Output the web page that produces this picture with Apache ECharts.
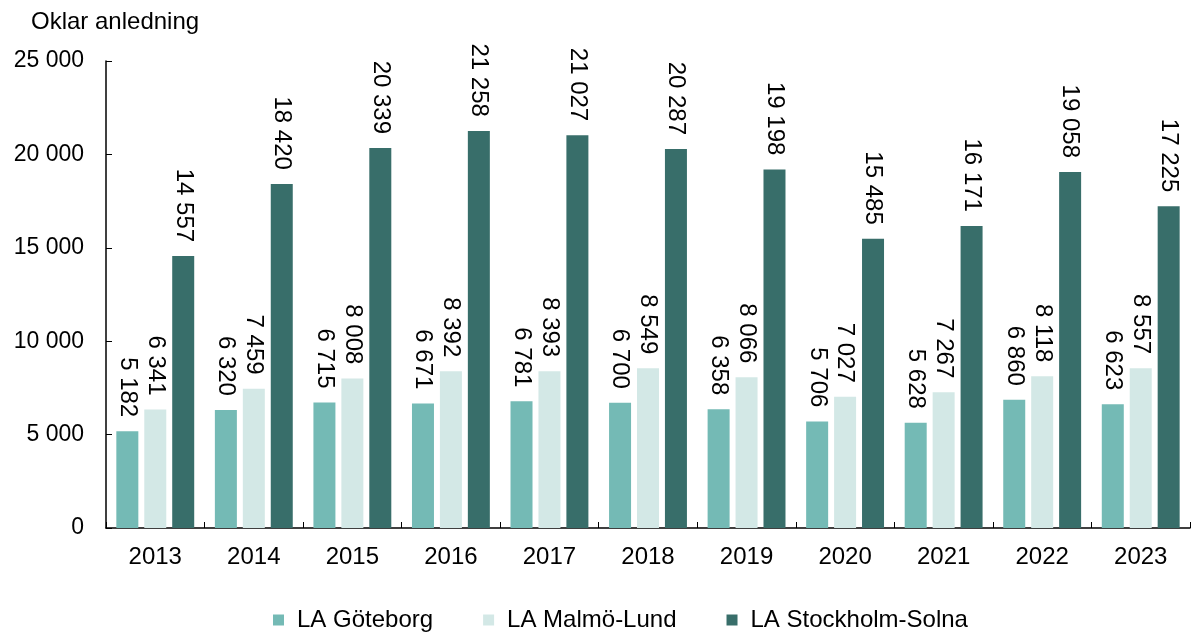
<!DOCTYPE html>
<html>
<head>
<meta charset="utf-8">
<script src="https://cdn.jsdelivr.net/npm/echarts@6/dist/echarts.min.js"></script>
<style>
  html, body { margin: 0; padding: 0; background: #fff; }
  #chart { width: 1195px; height: 637px; }
</style>
</head>
<body>
<div id="chart"></div>
<script>
  const years = ["2013", "2014", "2015", "2016", "2017", "2018", "2019", "2020", "2021", "2022", "2023"]
  const goteborg = [5182, 6320, 6715, 6671, 6781, 6700, 6358, 5706, 5628, 6860, 6623]
  const malmo = [6341, 7459, 8008, 8392, 8393, 8549, 8066, 7027, 7267, 8118, 8557]
  const stockholm = [14557, 18420, 20339, 21258, 21027, 20287, 19198, 15485, 16171, 19058, 17225]
  const seriesNames = ["LA Göteborg", "LA Malmö-Lund", "LA Stockholm-Solna"]
  const colors = ["#74bab5", "#d3e8e6", "#386e6a"]

  const font = "Liberation Sans, Arial, sans-serif"
  const fmt = (v) => String(v).replace(/\B(?=(\d{3})+(?!\d))/g, " ")

  function makeSeries(name, data, color) {
    return {
      name: name,
      type: "bar",
      data: data,
      barWidth: 22,
      barGap: "27%",
      itemStyle: { color: color },
      label: {
        show: true,
        position: "top",
        distance: 14,
        rotate: -90,
        align: "right",
        verticalAlign: "middle",
        color: "#000",
        fontFamily: font,
        fontSize: 24,
        formatter: (p) => fmt(p.value),
      },
    }
  }

  const myChart = echarts.init(document.getElementById("chart"))
  myChart.setOption({
    animation: false,
    color: colors,
    title: {
      text: "Oklar anledning",
      left: 26,
      top: 5,
      textStyle: { fontFamily: font, fontSize: 24, fontWeight: "normal", color: "#000" },
    },
    grid: { left: 106, right: 5, top: 61, bottom: 109 },
    legend: {
      bottom: 0,
      left: 268,
      itemWidth: 11,
      itemHeight: 11,
      itemGap: 50,
      icon: "rect",
      textStyle: { fontFamily: font, fontSize: 24, color: "#000", padding: [0, 0, 0, 8] },
      data: seriesNames,
    },
    xAxis: {
      type: "category",
      data: years,
      axisLine: { lineStyle: { color: "#000", width: 1.5 } },
      axisTick: { show: true, inside: true, length: 6, lineStyle: { color: "#000" } },
      axisLabel: { color: "#000", fontFamily: font, fontSize: 24, margin: 17 },
    },
    yAxis: {
      type: "value",
      min: 0,
      max: 25000,
      interval: 5000,
      splitLine: { show: false },
      axisLine: { show: true, lineStyle: { color: "#000", width: 1.5 } },
      axisTick: { show: true, inside: true, length: 6, lineStyle: { color: "#000" } },
      axisLabel: { color: "#000", fontFamily: font, fontSize: 23, margin: 22, formatter: fmt },
    },
    series: [
      makeSeries(seriesNames[0], goteborg, colors[0]),
      makeSeries(seriesNames[1], malmo, colors[1]),
      makeSeries(seriesNames[2], stockholm, colors[2]),
    ],
  })
</script>
</body>
</html>
